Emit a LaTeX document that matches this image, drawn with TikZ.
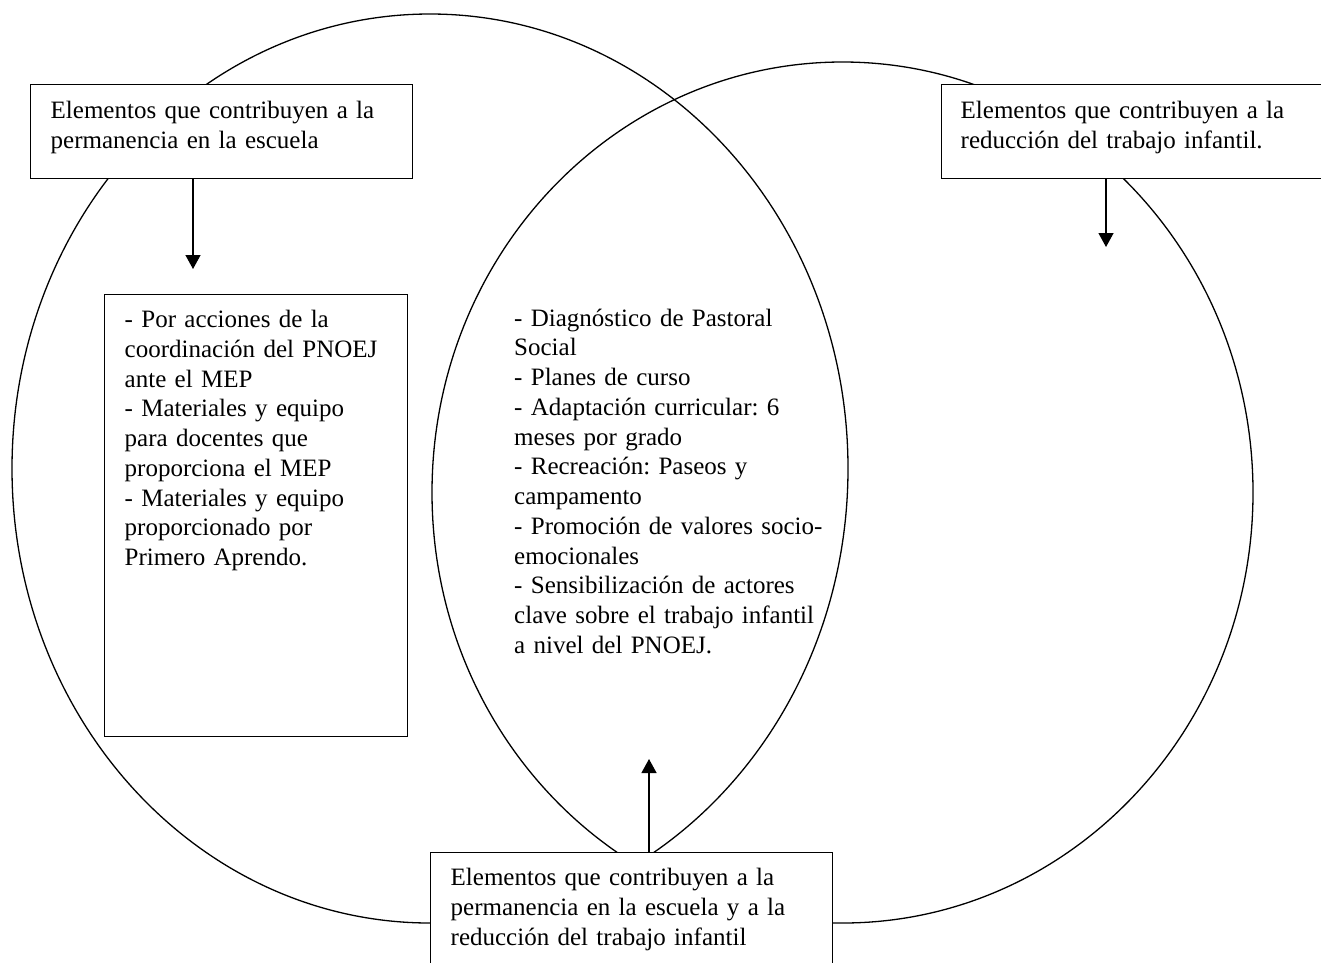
\documentclass[tikz,border=0pt]{standalone}
\usepackage{fontspec}
\setmainfont{Liberation Serif}
\usetikzlibrary{arrows.meta,shapes.geometric}
\begin{document}
\frenchspacing
\begin{tikzpicture}[x=1pt,y=-1pt,
  txt/.style={font=\fontsize{25}{29.75}\selectfont, align=left},
  venn/.style={draw, ellipse, line width=1.3pt, inner sep=0pt},
  infobox/.style={txt, draw, fill=white, line width=1.4pt, anchor=north west, inner ysep=0pt},
  arr/.style={line width=1.3pt, -{Triangle[width=15pt,length=14pt]}}]
\path[use as bounding box, clip] (0,0) rectangle (1321,962);
\fill[white] (0,0) rectangle (1321,962);
% circles
\node[venn, minimum width=836pt, minimum height=909pt] (L) at (430,468.5) {};
\node[venn, minimum width=821pt, minimum height=861pt] (R) at (842.5,492.5) {};
% boxes
\node[infobox, inner xsep=20pt, text width=342pt, text height=34pt, text depth=60pt] (A) at (30,84)
  {Elementos que contribuyen a la\\permanencia en la escuela};
\node[infobox, inner xsep=19pt, text width=362pt, text height=34pt, text depth=60pt] (B) at (941,84)
  {Elementos que contribuyen a la\\reducción del trabajo infantil.};
\node[infobox, inner xsep=20pt, text width=263pt, text height=33pt, text depth=409pt] (C) at (104,294)
  {- Por acciones de la\\coordinación del PNOEJ\\ante el MEP\\- Materiales y equipo\\para docentes que\\proporciona el MEP\\- Materiales y equipo\\proporcionado por\\Primero Aprendo.};
\node[infobox, inner xsep=20pt, text width=362pt, text height=33pt, text depth=150pt] (D) at (430,852)
  {Elementos que contribuyen a la\\permanencia en la escuela y a la\\reducción del trabajo infantil};
\node[txt, inner sep=0pt, text width=330pt, anchor=base west] (M) at (514,326)
  {- Diagnóstico de Pastoral\\Social\\- Planes de curso\\- Adaptación curricular: 6\\meses por grado\\- Recreación: Paseos y\\campamento\\- Promoción de valores socio-\\emocionales\\- Sensibilización de actores\\clave sobre el trabajo infantil\\a nivel del PNOEJ.};
% arrows
\coordinate (atip) at (193,269);
\coordinate (btip) at (1106,247);
\coordinate (dtip) at (649,759);
\draw[arr] (A.south -| atip) -- (atip);
\draw[arr] (B.south -| btip) -- (btip);
\draw[arr] (D.north -| dtip) -- (dtip);
\end{tikzpicture}
\end{document}
